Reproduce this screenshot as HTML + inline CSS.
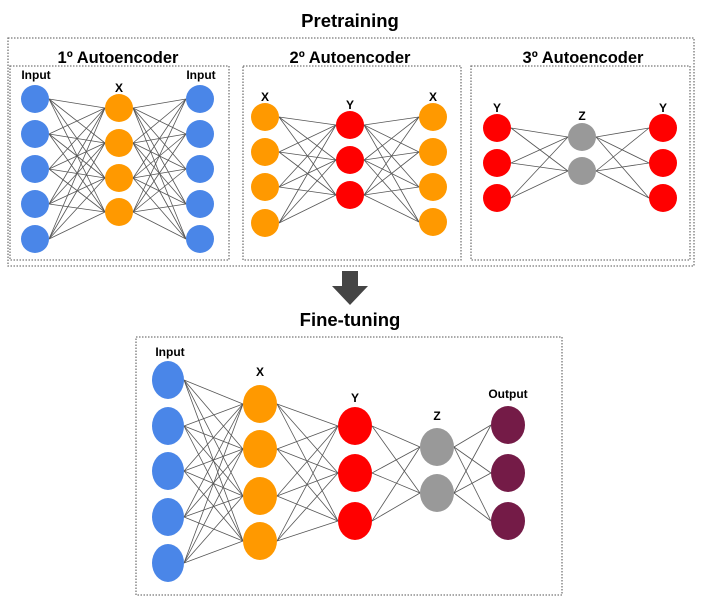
<!DOCTYPE html>
<html><head><meta charset="utf-8"><style>
body{margin:0;background:#fff;}
svg{display:block;font-family:"Liberation Sans",Arial,sans-serif;font-weight:bold;}
</style></head><body>
<svg id="s" width="703" height="601" viewBox="0 0 703 601" xmlns="http://www.w3.org/2000/svg">
<rect width="703" height="601" fill="#fff"/>
<g fill="none" stroke="#777" stroke-width="1.3" stroke-dasharray="1.5 1.5">
<rect x="8" y="38" width="686" height="228"/>
<rect x="10" y="66" width="219" height="194"/>
<rect x="243" y="66" width="218" height="194"/>
<rect x="471" y="66" width="219" height="194"/>
<rect x="136" y="337" width="426" height="258"/>
</g>
<g text-anchor="middle" fill="#000">
<text x="350" y="27" font-size="18.5">Pretraining</text>
<text x="118" y="63" font-size="16.5">1º Autoencoder</text>
<text x="350" y="63" font-size="16.5">2º Autoencoder</text>
<text x="583" y="63" font-size="16.5">3º Autoencoder</text>
<text x="350" y="326" font-size="18.5">Fine-tuning</text>
<text x="36" y="79" font-size="12">Input</text>
<text x="119" y="92" font-size="12">X</text>
<text x="201" y="79" font-size="12">Input</text>
<text x="265" y="101" font-size="12">X</text>
<text x="350" y="109" font-size="12">Y</text>
<text x="433" y="101" font-size="12">X</text>
<text x="497" y="112" font-size="12">Y</text>
<text x="582" y="120" font-size="12">Z</text>
<text x="663" y="112" font-size="12">Y</text>
<text x="170" y="356" font-size="12">Input</text>
<text x="260" y="376" font-size="12">X</text>
<text x="355" y="402" font-size="12">Y</text>
<text x="437" y="420" font-size="12">Z</text>
<text x="508" y="398" font-size="12">Output</text>
</g>
<path d="M342 271 H358 V286 H368 L350 305 L332 286 H342 Z" fill="#444"/>
<g id="lines" stroke="#555" stroke-width="0.8" fill="none"></g>
<g id="nodes"></g>
</svg>
<script>
var NS="http://www.w3.org/2000/svg";
var L=document.getElementById('lines'),N=document.getElementById('nodes');
function layer(cx,cys,rx,ry,col){return {cx:cx,cys:cys,rx:rx,ry:ry,col:col};}
function net(layers){
 for(var i=0;i<layers.length-1;i++){var a=layers[i],b=layers[i+1];
  a.cys.forEach(function(y1){b.cys.forEach(function(y2){
   var l=document.createElementNS(NS,'line');
   l.setAttribute('x1',a.cx+a.rx);l.setAttribute('y1',y1);
   l.setAttribute('x2',b.cx-b.rx);l.setAttribute('y2',y2);L.appendChild(l);});});}
 layers.forEach(function(a){a.cys.forEach(function(y){
  var e=document.createElementNS(NS,'ellipse');
  e.setAttribute('cx',a.cx);e.setAttribute('cy',y);e.setAttribute('rx',a.rx);e.setAttribute('ry',a.ry);
  e.setAttribute('fill',a.col);N.appendChild(e);});});
}
var B="#4a86e8",O="#ff9900",R="#ff0000",G="#999999",M="#741b47";
net([layer(35,[99,134,169,204,239],14,14,B),layer(119,[108,143,178,212],14,14,O),layer(200,[99,134,169,204,239],14,14,B)]);
net([layer(265,[117,152,187,223],14,14,O),layer(350,[125,160,195],14,14,R),layer(433,[117,152,187,222],14,14,O)]);
net([layer(497,[128,163,198],14,14,R),layer(582,[137,171],14,14,G),layer(663,[128,163,198],14,14,R)]);
net([layer(168,[380,426,471,517,563],16,19,B),layer(260,[404,449,496,541],17,19,O),layer(355,[426,473,521],17,19,R),layer(437,[447,493],17,19,G),layer(508,[425,473,521],17,19,M)]);
</script>
</body></html>
